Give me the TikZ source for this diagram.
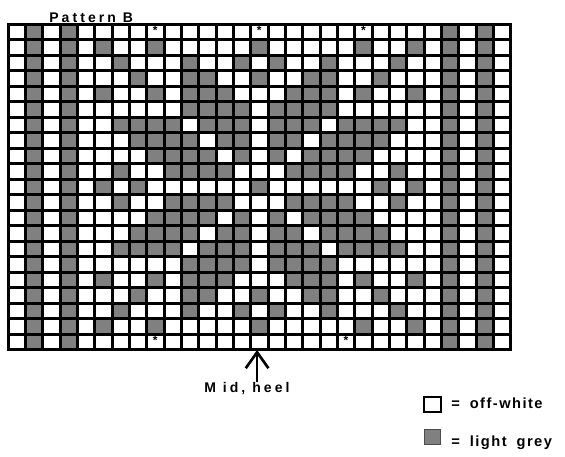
\documentclass[tikz,border=0pt]{standalone}
\usepackage{fontspec}
\setmainfont{Liberation Sans}
\newfontfamily\widefont{Liberation Sans}[LetterSpace=22]
\newfontfamily\keyfont{Liberation Sans}[LetterSpace=10, WordSpace=1.8]
\usetikzlibrary{positioning, arrows.meta}
\definecolor{lightgrey}{HTML}{808080}

\begin{document}
\begin{tikzpicture}[
    x=0.75pt, y=-0.75pt,
    cell/.style={fill=lightgrey},
    gridline/.style={line width=2.25pt, line cap=rect},
    stitchmark/.style={inner sep=0pt, font=\bfseries\fontsize{9}{9}\selectfont},
    chartlabel/.style={inner sep=0pt, anchor=base west, font=\widefont\bfseries\fontsize{10.5}{12}\selectfont},
    keylabel/.style={inner sep=0pt, anchor=base west, font=\keyfont\bfseries\fontsize{11}{13}\selectfont},
    keybox/.style={draw, minimum width=12.5pt, minimum height=11pt, inner sep=0pt},
    >={Straight Barb[length=12pt, width=17pt]}
]
\useasboundingbox (0,0) rectangle (565,457);

\node[chartlabel] (title) at (49,22) {Pattern B};

\begin{scope}[shift={(8,24)}, x=13pt, y=-11.64pt]
  % grey cells of rows 0-10, mirrored left/right and top/bottom
  \foreach \r/\cols in {0/{1,3}, 1/{1,3,5,8,14}, 2/{1,3,6,10,13},
      3/{1,3,7,10,11,14}, 4/{1,3,5,8,10,11,12}, 5/{1,3,10,11,12,13},
      6/{1,3,6,7,8,9,11,12,13}, 7/{1,3,7,8,9,10,12,13},
      8/{1,3,8,9,10,11,13}, 9/{1,3,6,9,10,11,12}, 10/{1,3,5,7,14}} {
    \foreach \c in \cols {
      \fill[cell] (\c,\r) rectangle ++(1,1);
      \fill[cell] (28-\c,\r) rectangle ++(1,1);
      \fill[cell] (\c,20-\r) rectangle ++(1,1);
      \fill[cell] (28-\c,20-\r) rectangle ++(1,1);
    }
  }
  \foreach \c in {0,...,29} \draw[gridline] (\c,0) -- (\c,21);
  \foreach \r in {0,...,21} \draw[gridline] (0,\r) -- (29,\r);
  % starting stitches
  \foreach \c in {8,14,20} \node[stitchmark] (top\c) at (\c+0.5,0.4) {*};
  \foreach \c in {8,19} \node[stitchmark] (bot\c) at (\c+0.5,20.4) {*};
  \coordinate (heeltip) at (14.37,21);
\end{scope}

\node[chartlabel] (midheel) at (204,392.7) {M id, heel};
\draw[->, line width=2pt] (heeltip |- midheel.north) -- (heeltip);

\node[keybox, line width=1.5pt, fill=white] (whitekey) at (432.5,404.3) {};
\node[keylabel] (whitetext) at (451,408.3) {= off-white};
\node[keybox, line width=0.6pt, draw=black!70, fill=lightgrey] (greykey) at (432.5,437) {};
\node[keylabel] (greytext) at (451,446.7) {= light grey};
\end{tikzpicture}
\end{document}
